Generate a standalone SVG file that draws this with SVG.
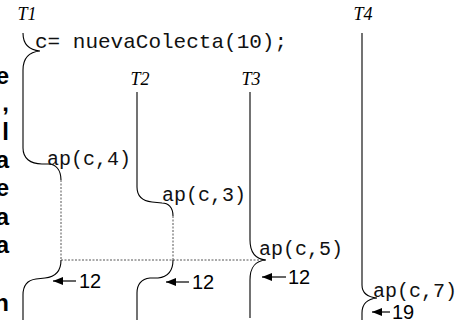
<svg xmlns="http://www.w3.org/2000/svg" width="455" height="320" viewBox="0 0 455 320">
<defs>
<style>
.tl{fill:none;stroke:#000;stroke-width:1.1}
.dot{fill:none;stroke:#555;stroke-width:1;stroke-dasharray:2,1.5}
.lab{font-family:"Liberation Serif",serif;font-style:italic;font-size:18px;text-anchor:middle;fill:#000}
.code{font-family:"Liberation Mono",monospace;font-size:20px;fill:#111}
.num{font-family:"Liberation Sans",sans-serif;font-size:20px;fill:#000}
.par{font-family:"Liberation Sans",sans-serif;font-weight:bold;font-size:24px;text-anchor:end;fill:#000}
.arr{stroke:#000;stroke-width:1.2}
</style>
<marker id="ah" viewBox="0 0 10 8" refX="10" refY="4" markerWidth="10" markerHeight="8" markerUnits="userSpaceOnUse" orient="auto">
<path d="M0,0 L10,4 L0,8 z" fill="#000"/>
</marker>
</defs>
<rect width="455" height="320" fill="#fff"/>
<g id="paragraph">
<text class="par" x="9" y="84">e</text>
<text class="par" x="9" y="111">,</text>
<text class="par" x="9" y="140">l</text>
<text class="par" x="9" y="168">a</text>
<text class="par" x="9" y="196">e</text>
<text class="par" x="9" y="225">a</text>
<text class="par" x="9" y="253">a</text>
<text class="par" x="9" y="311">n</text>
</g>
<g id="connectors">
<path class="dot" d="M61,180 L61,260"/>
<path class="dot" d="M173,216 L173,260"/>
<path class="dot" d="M61,260 L265,260"/>
</g>
<g id="t1">
<text class="lab" x="27" y="20">T1</text>
<path class="tl" d="M23,33 C23,44 29,50 40,51 C29,52 23,58 23,70 L23,148 C23,158 30,164 42,164 L48,164 C56,164 61,170 61,180"/>
<path class="tl" d="M61,260 C61,272 55,277 45,278 L36,279 C28,280 23,285 23,295 L23,320"/>
<text class="code" x="35" y="48" style="font-size:21px">c= nuevaColecta(10);</text>
<text class="code" x="47" y="165">ap(c,4)</text>
<line class="arr" x1="76" y1="281" x2="53" y2="281" marker-end="url(#ah)"/>
<text class="num" x="79" y="288">12</text>
</g>
<g id="t2">
<text class="lab" x="140" y="85">T2</text>
<path class="tl" d="M137,92 L137,187 C137,196 143,201 152,202 L162,203 C168,203 173,207 173,216"/>
<path class="tl" d="M173,260 C173,272 167,277 158,278 L150,278 C142,279 137,284 137,293 L137,320"/>
<text class="code" x="162" y="201">ap(c,3)</text>
<line class="arr" x1="189" y1="282" x2="166" y2="282" marker-end="url(#ah)"/>
<text class="num" x="192" y="289">12</text>
</g>
<g id="t3">
<text class="lab" x="251" y="85">T3</text>
<path class="tl" d="M250,92 L250,240 C250,252 255,259 266,260 C255,261 250,267 250,280 L250,318"/>
<text class="code" x="259" y="255">ap(c,5)</text>
<line class="arr" x1="286" y1="277" x2="262" y2="277" marker-end="url(#ah)"/>
<text class="num" x="288" y="284">12</text>
</g>
<g id="t4">
<text class="lab" x="363" y="20">T4</text>
<path class="tl" d="M362,33 L362,285 C362,293 367,297 377,298 C367,299 362,304 362,313 L362,320"/>
<text class="code" x="373" y="297">ap(c,7)</text>
<line class="arr" x1="390" y1="312" x2="372" y2="312" marker-end="url(#ah)"/>
<text class="num" x="392" y="319">19</text>
</g>
</svg>
